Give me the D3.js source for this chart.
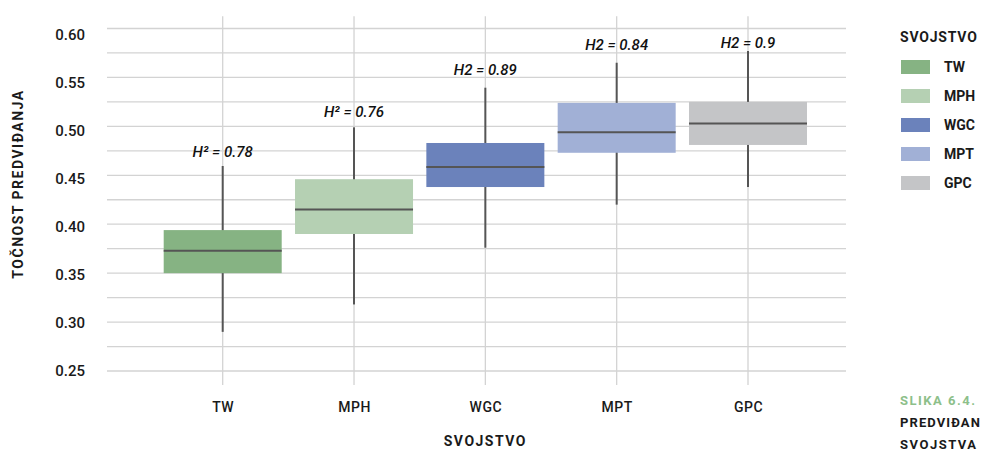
<!DOCTYPE html>
<html>
<head>
<meta charset="utf-8">
<script src="https://cdn.jsdelivr.net/npm/d3@7"></script>
<style>
  body { margin: 0; background: #fff; }
  svg { display: block; font-family: Roboto, "DejaVu Sans", sans-serif; }
</style>
</head>
<body>
<div id="chart-area"></div>
<script>
// data
var traits = ["TW", "MPH", "WGC", "MPT", "GPC"];
var whiskerLow = [0.290, 0.318, 0.376, 0.420, 0.438];
var boxLow = [0.350, 0.390, 0.438, 0.473, 0.481];
var medians = [0.373, 0.415, 0.4585, 0.494, 0.503];
var boxHigh = [0.394, 0.446, 0.483, 0.524, 0.525];
var whiskerHigh = [0.4595, 0.499, 0.5395, 0.565, 0.577];
var herit = ["H² = 0.78", "H² = 0.76", "H2 = 0.89", "H2 = 0.84", "H2 = 0.9"];
var heritY = [0.474, 0.515, 0.558, 0.584, 0.586];
var yTicks = [0.25, 0.30, 0.35, 0.40, 0.45, 0.50, 0.55, 0.60];
var yMinor = [0.275, 0.325, 0.375, 0.425, 0.475, 0.525, 0.575];

var colors = {TW: "#86b383", MPH: "#b5d0b3", WGC: "#6b82bb", MPT: "#a1b0d6", GPC: "#c4c5c7"};

var width = 982;
var height = 452;
var gridLeft = 107, gridRight = 846;

var svg = d3.select('#chart-area')
  .append('svg')
  .attr('width', width)
  .attr('height', height);

var yScale = d3.scaleLinear().domain([0.25, 0.60]).range([371, 28.5]);
// the tick labels sit a little off the grid in the original
var yLabelScale = d3.scaleLinear().domain([0.25, 0.60]).range([370, 34]);
var xScale = d3.scalePoint().domain(traits).range([222.7, 748]);
var boxW = 118;

// grid
var grid = svg.append("g").attr("class", "grid");
grid.selectAll("line.h")
  .data(yTicks.concat(yMinor))
  .enter().append("line")
  .attr("class", "h")
  .attr("x1", gridLeft).attr("x2", gridRight)
  .attr("y1", d => yScale(d)).attr("y2", d => yScale(d))
  .attr("stroke", "#d3d3d3").attr("stroke-width", 1.3);

grid.selectAll("line.v")
  .data(traits)
  .enter().append("line")
  .attr("class", "v")
  .attr("x1", d => xScale(d)).attr("x2", d => xScale(d))
  .attr("y1", yScale(0.6125)).attr("y2", 385)
  .attr("stroke", "#d3d3d3").attr("stroke-width", 1.3);

// y axis labels
var yAxis = d3.axisLeft(yLabelScale).tickValues(yTicks).tickFormat(d3.format(".2f")).tickSize(0).tickPadding(0);
var yG = svg.append("g").attr("transform", "translate(85,0)").call(yAxis);
yG.select(".domain").remove();
yG.selectAll("text")
  .attr("font-family", "Roboto")
  .attr("font-size", "15px")
  .attr("font-weight", 500)
  .attr("fill", "#1a1a1a")
  .attr("dy", "0.36em");

// x axis labels
var xAxis = d3.axisBottom(xScale).tickSize(0).tickPadding(0);
var xG = svg.append("g").attr("transform", "translate(0,407)").call(xAxis);
xG.select(".domain").remove();
xG.selectAll("text")
  .attr("font-family", "Roboto")
  .attr("font-size", "14px")
  .attr("font-weight", 500)
  .attr("letter-spacing", "0.5px")
  .attr("fill", "#1a1a1a")
  .attr("dy", "0.36em");

// boxes
var boxes = svg.append("g").selectAll("g.box")
  .data(traits)
  .enter().append("g")
  .attr("class", "box");

boxes.append("line")
  .attr("x1", d => xScale(d)).attr("x2", d => xScale(d))
  .attr("y1", (d, i) => yScale(whiskerLow[i]))
  .attr("y2", (d, i) => yScale(whiskerHigh[i]))
  .attr("stroke", "#555").attr("stroke-width", 2);

boxes.append("rect")
  .attr("x", d => xScale(d) - boxW / 2)
  .attr("width", boxW)
  .attr("y", (d, i) => yScale(boxHigh[i]))
  .attr("height", (d, i) => yScale(boxLow[i]) - yScale(boxHigh[i]))
  .attr("fill", d => colors[d]);

boxes.append("line")
  .attr("x1", d => xScale(d) - boxW / 2).attr("x2", d => xScale(d) + boxW / 2)
  .attr("y1", (d, i) => yScale(medians[i]))
  .attr("y2", (d, i) => yScale(medians[i]))
  .attr("stroke", "#555").attr("stroke-width", 2);

// heritability notes
svg.append("g").selectAll("text")
  .data(traits)
  .enter().append("text")
  .attr("x", d => xScale(d))
  .attr("y", (d, i) => yScale(heritY[i]))
  .attr("dy", "0.36em")
  .attr("text-anchor", "middle")
  .attr("font-size", "15px")
  .attr("font-style", "italic")
  .attr("font-weight", 500)
  .attr("fill", "#111")
  .text((d, i) => herit[i]);

// axis titles
svg.append("text")
  .attr("x", xScale("WGC"))
  .attr("y", 446)
  .attr("text-anchor", "middle")
  .attr("font-size", "14px")
  .attr("font-weight", 700)
  .attr("letter-spacing", "1.5px")
  .attr("fill", "#1a1a1a")
  .text("SVOJSTVO");

svg.append("text")
  .attr("transform", "translate(23," + 184 + ") rotate(-90)")
  .attr("text-anchor", "middle")
  .attr("font-size", "14px")
  .attr("font-weight", 700)
  .attr("letter-spacing", "1.5px")
  .attr("fill", "#1a1a1a")
  .text("TOČNOST PREDVIĐANJA");

// legend
var legend = svg.append("g").attr("transform", "translate(900,0)");
legend.append("text")
  .attr("x", 0).attr("y", 42)
  .attr("font-size", "14px")
  .attr("font-weight", 700)
  .attr("letter-spacing", "0.8px")
  .attr("fill", "#1a1a1a")
  .text("SVOJSTVO");

traits.forEach((t, i) => {
  var row = legend.append("g").attr("transform", "translate(0," + (67 + i * 29) + ")");
  row.append("rect").attr("x", 1).attr("y", -7).attr("width", 29).attr("height", 14).attr("fill", colors[t]);
  row.append("text").attr("x", 44).attr("y", 0).attr("dy", "0.36em")
    .attr("font-size", "14px").attr("font-weight", 700).attr("fill", "#1a1a1a").text(t);
});

// caption (runs off the right edge in the original)
var cap = svg.append("g").attr("transform", "translate(900,0)")
  .attr("font-size", "13px").attr("font-weight", 700).attr("letter-spacing", "1.1px");
cap.append("text").attr("y", 405).attr("fill", "#8dbf8a").attr("letter-spacing", "1.5px").text("SLIKA 6.4.");
cap.append("text").attr("y", 427).attr("fill", "#1a1a1a").text("PREDVIĐAN");
cap.append("text").attr("y", 449).attr("fill", "#1a1a1a").attr("letter-spacing", "1.5px").text("SVOJSTVA");
</script>
</body>
</html>
